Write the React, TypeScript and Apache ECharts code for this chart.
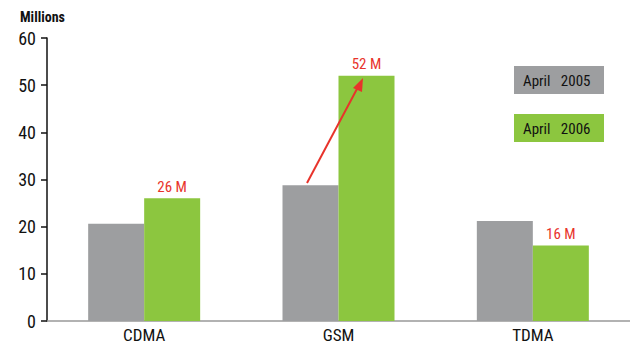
import React, { useEffect, useRef } from "react";
import * as echarts from "echarts";

const categories = ["CDMA", "GSM", "TDMA"];
const april2005 = [20.6, 28.8, 21.2];
const april2006 = [26, 52, 16];
const seriesNames = ["April\u00a0\u00a0\u00a02005", "April\u00a0\u00a0\u00a02006"];
const yTicks = { min: 0, max: 60, interval: 10 };

const FONT = "'Liberation Sans Narrow', 'Roboto Condensed', 'DejaVu Sans Condensed', sans-serif";
const GRAY = "#9d9ea0";
const GREEN = "#8cc63f";
const RED = "#e8332b";

export default function App() {
  const ref = useRef<HTMLDivElement>(null);
  useEffect(() => {
    if (!ref.current) return;
    const chart = echarts.init(ref.current, undefined, { renderer: "svg" });
    chart.setOption({
      animation: false,
      textStyle: { fontFamily: FONT },
      grid: { left: 47, right: 0, top: 38, bottom: 21, containLabel: false },
      xAxis: {
        type: "category",
        data: categories,
        axisLine: { lineStyle: { color: "#999", width: 1.5 } },
        axisTick: { show: false },
        axisLabel: { color: "#111", fontSize: 17, fontFamily: FONT, margin: 5 },
      },
      yAxis: {
        type: "value",
        min: yTicks.min,
        max: yTicks.max,
        interval: yTicks.interval,
        axisLine: { show: true, lineStyle: { color: "#111", width: 1.5 } },
        axisTick: { show: true, length: 6, lineStyle: { color: "#111", width: 1.5 } },
        splitLine: { show: false },
        axisLabel: { color: "#111", fontSize: 18, fontFamily: FONT, margin: 11 },
      },
      series: [
        {
          name: seriesNames[0],
          type: "bar",
          data: april2005,
          itemStyle: { color: GRAY },
          barWidth: 56,
          barGap: "0%",
        },
        {
          name: seriesNames[1],
          type: "bar",
          data: april2006,
          itemStyle: { color: GREEN },
          barWidth: 56,
          barGap: "0%",
          label: {
            show: true,
            position: "top",
            distance: 4,
            color: RED,
            fontSize: 15,
            fontFamily: FONT,
            formatter: "{c} M",
          },
        },
      ],
      graphic: [
        {
          type: "text",
          left: 20,
          top: 10,
          z: 100,
          style: { text: "Millions", fontSize: 14, fontWeight: "bold", fill: "#111", fontFamily: FONT },
        },
        {
          type: "rect",
          z: 100,
          shape: { x: 514, y: 66, width: 90, height: 28 },
          style: { fill: GRAY },
        },
        {
          type: "text",
          z: 101,
          x: 523,
          y: 81,
          style: { text: seriesNames[0], fontSize: 15, fill: "#111", fontFamily: FONT, verticalAlign: "middle" },
        },
        {
          type: "rect",
          z: 100,
          shape: { x: 514, y: 114, width: 90, height: 28 },
          style: { fill: GREEN },
        },
        {
          type: "text",
          z: 101,
          x: 523,
          y: 129,
          style: { text: seriesNames[1], fontSize: 15, fill: "#111", fontFamily: FONT, verticalAlign: "middle" },
        },
        {
          type: "line",
          z: 100,
          shape: { x1: 307, y1: 183, x2: 358, y2: 87 },
          style: { stroke: RED, lineWidth: 2 },
        },
        {
          type: "polygon",
          z: 100,
          shape: { points: [[363, 78], [353, 88], [362, 92]] },
          style: { fill: RED },
        },
      ],
    });
    return () => chart.dispose();
  }, []);
  return (
    <div
      ref={ref}
      style={{ position: "fixed", left: 0, top: 0, width: 630, height: 343, background: "#fff" }}
    />
  );
}
